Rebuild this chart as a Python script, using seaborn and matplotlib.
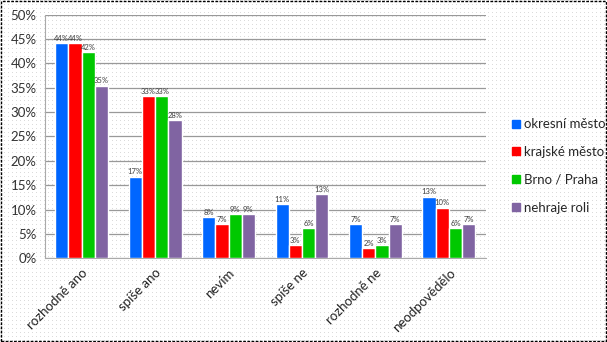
import numpy as np
import pandas as pd
import matplotlib
matplotlib.use("Agg")
import matplotlib.pyplot as plt
import seaborn as sns
from matplotlib.patches import Rectangle
from matplotlib.lines import Line2D

categories = ["rozhodně ano", "spíše ano", "nevím", "spíše ne", "rozhodně ne", "neodpovědělo"]
series = ["okresní město", "krajské město", "Brno / Praha", "nehraje roli"]
okresni = [44.2, 16.7, 8.4, 11.1, 7.0, 12.6]
krajske = [44.2, 33.3, 7.0, 2.7, 2.1, 10.4]
brno = [42.3, 33.3, 9.0, 6.2, 2.7, 6.2]
nehraje = [35.4, 28.4, 9.0, 13.2, 7.0, 7.0]
yticks = [0, 5, 10, 15, 20, 25, 30, 35, 40, 45, 50]
colors = ["#0066FF", "#FF0000", "#00C800", "#8064A2"]

rows = []
for s, vals in zip(series, [okresni, krajske, brno, nehraje]):
    for c, v in zip(categories, vals):
        rows.append({"cat": c, "series": s, "val": v})
df = pd.DataFrame(rows)

sns.set_style("white")
plt.rcParams['font.family'] = ['Lato', 'DejaVu Sans']

fig = plt.figure(figsize=(6.07, 3.42), dpi=100)
# dotted background pattern
H, W = 342, 607
bg = np.ones((H, W, 3))
bg[::4, ::4] = 0.86
fig.figimage(bg, xo=0, yo=0, zorder=-10)
fig.patch.set_alpha(0)

ax = fig.add_axes([0.074, 0.245, 0.726, 0.712])
ax.patch.set_alpha(0)
sns.barplot(data=df, x="cat", y="val", hue="series", palette=colors, width=0.72,
            ax=ax, legend=False, saturation=1, zorder=3)

for cont in ax.containers:
    labels = [f"{round(b.get_height()):.0f}%" for b in cont]
    ax.bar_label(cont, labels=labels, fontsize=5.5, color="#404040", padding=1)

ax.set_ylim(0, 50)
ax.set_yticks(yticks)
ax.set_yticklabels([f"{t}%" for t in yticks], fontsize=9.5, color="#333333")
ax.yaxis.grid(True, color="#999999", linewidth=0.9, zorder=0)
ax.set_xlim(-0.5, 5.5)
ax.set_xticks(range(len(categories)))
ax.set_xticklabels(categories, rotation=45, ha="right", rotation_mode="anchor", fontsize=9.5, color="#222222")
ax.tick_params(axis="x", length=0, pad=6)
ax.set_xticks(np.arange(-0.5, 6.0, 1.0), minor=True)
ax.tick_params(axis="x", which="minor", length=4, color="#999999")
ax.tick_params(axis="y", length=4, color="#999999", pad=2)
ax.set_xlabel("")
ax.set_ylabel("")
for sp in ["top", "right"]:
    ax.spines[sp].set_visible(False)
ax.spines["left"].set_color("#aaaaaa")
ax.spines["bottom"].set_color("#aaaaaa")

handles = [Line2D([0], [0], marker="s", linestyle="", markersize=6, markerfacecolor=c, markeredgecolor=c) for c in colors]
fig.legend(handles, series, loc="center left", bbox_to_anchor=(0.82, 0.515), frameon=False,
           fontsize=9.5, handletextpad=0.1, labelspacing=1.2, handlelength=1.0)

fig.add_artist(Rectangle((0.002, 0.003), 0.996, 0.994, transform=fig.transFigure, fill=False,
                         edgecolor="black", linewidth=1, linestyle=(0, (2, 1))))

fig.savefig("out.png", dpi=100)
